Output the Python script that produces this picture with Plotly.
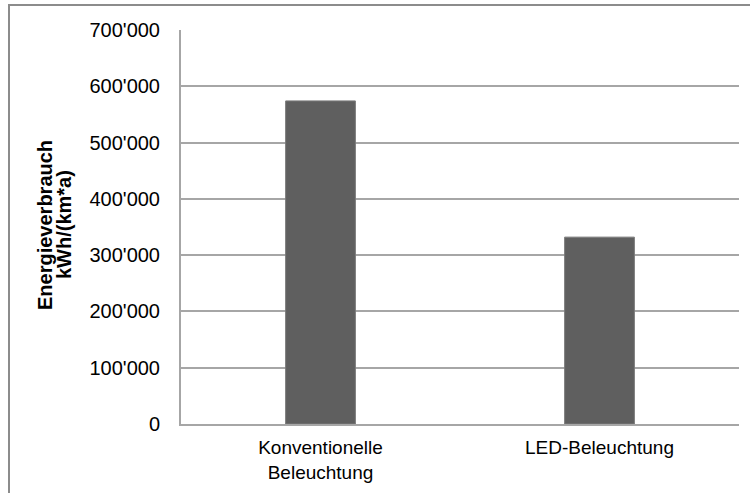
import plotly.graph_objects as go

# Energy consumption per km and year, conventional vs. LED street lighting
categories = ["Konventionelle<br>Beleuchtung", "LED-Beleuchtung"]
consumption = [574000, 332000]
y_ticks = [0, 100000, 200000, 300000, 400000, 500000, 600000, 700000]
title_lines = ["Energieverbrauch", "kWh/(km*a)"]

W, H = 750, 493
ml, mr, mt, mb = 181, 11, 30, 69
pw, ph = W - ml - mr, H - mt - mb

fig = go.Figure(
    go.Bar(
        x=categories,
        y=consumption,
        marker=dict(color="#5f5f5f", line=dict(color="#7a7a7a", width=1)),
        width=0.25,
    )
)

font = "Liberation Sans, Arial, sans-serif"

# rotated axis title, one annotation per line for tighter line spacing
title_x_px = [45, 64]
annotations = [
    dict(
        text=f"<b>{line}</b>",
        xref="paper",
        yref="paper",
        x=(px - ml) / pw,
        y=(H - mb - 225) / ph,
        xanchor="center",
        yanchor="middle",
        showarrow=False,
        textangle=-90,
        font=dict(family=font, size=20, color="#000000"),
    )
    for line, px in zip(title_lines, title_x_px)
]

fig.update_layout(
    width=W,
    height=H,
    margin=dict(l=ml, r=mr, t=mt, b=mb),
    paper_bgcolor="white",
    plot_bgcolor="white",
    separators=".'",
    showlegend=False,
    font=dict(family=font, size=19, color="#000000"),
    xaxis=dict(
        showgrid=False,
        showline=True,
        linecolor="#a6a6a6",
        linewidth=2,
        ticks="",
        ticklabelstandoff=5,
        automargin=False,
        tickfont=dict(size=19),
    ),
    yaxis=dict(
        range=[0, 700000],
        tickvals=y_ticks,
        tickformat=",",
        showgrid=True,
        gridcolor="#a6a6a6",
        gridwidth=1.5,
        showline=True,
        linecolor="#a6a6a6",
        linewidth=2,
        ticks="",
        ticklabelstandoff=15,
        zeroline=False,
        automargin=False,
        tickfont=dict(size=20),
    ),
    annotations=annotations,
    shapes=[
        dict(
            type="rect",
            xref="paper",
            yref="paper",
            x0=(9 - ml) / pw,
            x1=(W + 5 - ml) / pw,
            y0=-(mb + 5) / ph,
            y1=(H - mb - 5) / ph,
            line=dict(color="#8c8c8c", width=2),
            fillcolor="rgba(0,0,0,0)",
            layer="below",
        )
    ],
)

fig.write_html("out.html")
